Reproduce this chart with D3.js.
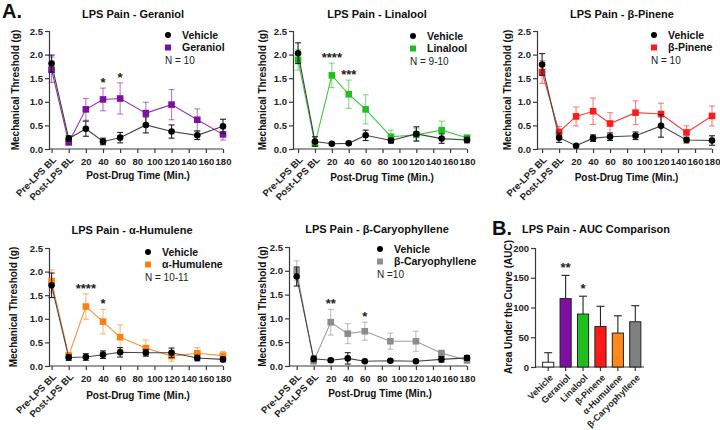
<!doctype html>
<html>
<head>
<meta charset="utf-8">
<title>LPS Pain</title>
<script src="https://d3js.org/d3.v7.min.js"></script>
<style>
  html, body { margin: 0; background: #fff; }
  svg { font-family: "Liberation Sans", Arial, sans-serif; font-weight: bold; }
</style>
</head>
<body>
<svg id="chart" width="720" height="430"></svg>
<script>
// time points: -20 = Pre-LPS BL, 0 = Post-LPS BL
var times = [-20, 0, 20, 40, 60, 90, 120, 150, 180];
var tickVals = [-20, 0, 20, 40, 60, 80, 100, 120, 140, 160, 180];
var tickNames = {"-20": "Pre-LPS BL", "0": "Post-LPS BL"};
var yTicks = [0, 0.5, 1, 1.5, 2, 2.5];

var gerVeh     = [1.81, 0.22, 0.43, 0.16, 0.24, 0.51, 0.37, 0.29, 0.48];
var gerVehErr  = [0.18, 0.06, 0.16, 0.07, 0.11, 0.17, 0.14, 0.09, 0.15];
var gerDrug    = [1.68, 0.14, 0.84, 1.05, 1.07, 0.76, 0.94, 0.62, 0.31];
var gerDrugErr = [0.27, 0.04, 0.23, 0.24, 0.33, 0.23, 0.32, 0.23, 0.12];
var gerStars   = ["", "", "", "*", "*", "", "", "", ""];

var linVeh     = [2.03, 0.16, 0.11, 0.12, 0.29, 0.18, 0.32, 0.22, 0.19];
var linVehErr  = [0.22, 0.10, 0.02, 0.02, 0.11, 0.05, 0.15, 0.10, 0.06];
var linDrug    = [1.89, 0.11, 1.56, 1.16, 0.84, 0.26, 0.30, 0.40, 0.24];
var linDrugErr = [0.22, 0.04, 0.26, 0.30, 0.31, 0.14, 0.14, 0.19, 0.05];
var linStars   = ["", "", "****", "***", "", "", "", "", ""];

var pinVeh     = [1.79, 0.24, 0.07, 0.23, 0.26, 0.28, 0.49, 0.19, 0.18];
var pinVehErr  = [0.23, 0.10, 0.02, 0.07, 0.08, 0.08, 0.24, 0.06, 0.10];
var pinDrug    = [1.63, 0.36, 0.69, 0.80, 0.54, 0.77, 0.74, 0.35, 0.70];
var pinDrugErr = [0.24, 0.12, 0.20, 0.28, 0.23, 0.25, 0.23, 0.14, 0.21];
var pinStars   = ["", "", "", "", "", "", "", "", ""];

var humVeh     = [1.71, 0.18, 0.19, 0.24, 0.29, 0.28, 0.28, 0.17, 0.14];
var humVehErr  = [0.26, 0.06, 0.07, 0.08, 0.10, 0.07, 0.10, 0.06, 0.05];
var humDrug    = [1.80, 0.22, 1.26, 0.94, 0.61, 0.38, 0.21, 0.27, 0.22];
var humDrugErr = [0.24, 0.06, 0.27, 0.26, 0.26, 0.17, 0.11, 0.12, 0.09];
var humStars   = ["", "", "****", "*", "", "", "", "", ""];

var carVeh     = [1.88, 0.15, 0.12, 0.16, 0.10, 0.11, 0.10, 0.14, 0.17];
var carVehErr  = [0.20, 0.06, 0.03, 0.12, 0.02, 0.02, 0.02, 0.06, 0.05];
var carDrug    = [2.00, 0.10, 0.92, 0.68, 0.73, 0.52, 0.52, 0.27, 0.12];
var carDrugErr = [0.21, 0.05, 0.27, 0.21, 0.19, 0.17, 0.21, 0.06, 0.06];
var carStars   = ["", "", "**", "", "*", "", "", "", ""];

var aucNames = ["Vehicle", "Geraniol", "Linalool", "β-Pinene", "α-Humulene", "β-Caryophyllene"];
var aucVals  = [8, 115, 89, 68, 57, 76];
var aucErr   = [16, 39, 30, 34, 29, 27];
var aucStars = ["", "**", "*", "", "", ""];
var aucTicks = [0, 50, 100, 150, 200];

var svg = d3.select("#chart");
svg.append("rect").attr("width", 720).attr("height", 430).attr("fill", "#fff");

var axisColor = "#3a3a3a";

// layout of each line panel (pixels)
var panels = [
  {title: "LPS Pain - Geraniol", name: "Geraniol", color: "#7d10a3", n: "N = 10",
   veh: gerVeh, vehErr: gerVehErr, drug: gerDrug, drugErr: gerDrugErr, stars: gerStars,
   ax: 49, ax1: 223, xmin: -23, top: 31, bot: 149, tx: 133, ty: 18, ylx: 15, xly: 179, lx: 168, ly: 35},
  {title: "LPS Pain - Linalool", name: "Linalool", color: "#1fbf1f", n: "N = 9-10",
   veh: linVeh, vehErr: linVehErr, drug: linDrug, drugErr: linDrugErr, stars: linStars,
   ax: 293, ax1: 467, xmin: -26, top: 31, bot: 149, tx: 377, ty: 18, ylx: 262, xly: 181, lx: 413, ly: 36},
  {title: "LPS Pain - β-Pinene", name: "β-Pinene", color: "#ff1a1a", n: "N = 10",
   veh: pinVeh, vehErr: pinVehErr, drug: pinDrug, drugErr: pinDrugErr, stars: pinStars,
   ax: 537, ax1: 712, xmin: -26, top: 31, bot: 149, tx: 622, ty: 18, ylx: 507, xly: 181, lx: 654, ly: 35},
  {title: "LPS Pain - α-Humulene", name: "α-Humulene", color: "#ff7f10", n: "N = 10-11",
   veh: humVeh, vehErr: humVehErr, drug: humDrug, drugErr: humDrugErr, stars: humStars,
   ax: 49, ax1: 223, xmin: -23, top: 248, bot: 366, tx: 132, ty: 234, ylx: 13, xly: 399, lx: 148, ly: 252},
  {title: "LPS Pain - β-Caryophyllene", name: "β-Caryophyllene", color: "#8c8c8c", n: "N =10",
   veh: carVeh, vehErr: carVehErr, drug: carDrug, drugErr: carDrugErr, stars: carStars,
   ax: 289, ax1: 467, xmin: -29, top: 247, bot: 366, tx: 377, ty: 233, ylx: 262, xly: 397, lx: 380, ly: 249}
];

function styleAxis(g) {
  g.selectAll(".domain").attr("stroke", axisColor).attr("stroke-width", 1.2);
  g.selectAll(".tick line").attr("stroke", axisColor).attr("stroke-width", 1.2);
  g.selectAll("text").attr("fill", "#222").attr("font-size", 9.5).attr("font-weight", "bold")
    .attr("font-family", '"Liberation Sans", Arial, sans-serif');
}

panels.forEach(function (p) {
  var x = d3.scaleLinear().domain([p.xmin, 180]).range([p.ax, p.ax1]);
  var y = d3.scaleLinear().domain([0, 2.5]).range([p.bot, p.top]);
  var g = svg.append("g");

  var yAxis = g.append("g").attr("transform", "translate(" + p.ax + ",0)")
    .call(d3.axisLeft(y).tickValues(yTicks).tickFormat(d3.format(".1f")).tickSize(4).tickPadding(2));
  styleAxis(yAxis);

  var xAxis = g.append("g").attr("transform", "translate(0," + p.bot + ")")
    .call(d3.axisBottom(x).tickValues(tickVals).tickSize(4).tickPadding(5)
      .tickFormat(function (d) { return tickNames[d] ? "" : d; }));
  styleAxis(xAxis);
  xAxis.select(".domain").attr("d", "M" + p.ax + ",0H" + p.ax1);

  // rotated baseline labels
  [-20, 0].forEach(function (t) {
    g.append("text")
      .attr("transform", "translate(" + (x(t) + 3) + "," + (p.bot + 9) + ") rotate(-45)")
      .attr("text-anchor", "end").attr("dy", "0.35em")
      .attr("font-size", 9.5).attr("fill", "#222")
      .text(tickNames[t]);
  });

  g.append("text").attr("x", p.tx).attr("y", p.ty).attr("text-anchor", "middle")
    .attr("font-size", 11).attr("fill", "#111").text(p.title);
  g.append("text").attr("transform", "translate(" + p.ylx + "," + ((p.top + p.bot) / 2) + ") rotate(-90)")
    .attr("text-anchor", "middle").attr("dy", "0.35em").attr("font-size", 10).attr("fill", "#111")
    .text("Mechanical Threshold (g)");
  g.append("text").attr("x", (p.ax + p.ax1) / 2 + 2).attr("y", p.xly).attr("text-anchor", "middle")
    .attr("font-size", 10).attr("fill", "#111").text("Post-Drug Time (Min.)");

  var line = d3.line().x(function (d, i) { return x(times[i]); }).y(function (d) { return y(d); });

  function series(vals, errs, col, lineCol, errCol, shape) {
    var s = g.append("g");
    s.append("path").datum(vals).attr("d", line).attr("fill", "none")
      .attr("stroke", lineCol).attr("stroke-width", 1.1);
    vals.forEach(function (v, i) {
      var cx = x(times[i]);
      var e = s.append("g").attr("stroke", errCol).attr("stroke-width", 1.1);
      e.append("line").attr("x1", cx).attr("x2", cx).attr("y1", y(v - errs[i])).attr("y2", y(v + errs[i]));
      e.append("line").attr("x1", cx - 3).attr("x2", cx + 3).attr("y1", y(v + errs[i])).attr("y2", y(v + errs[i]));
      e.append("line").attr("x1", cx - 3).attr("x2", cx + 3).attr("y1", y(v - errs[i])).attr("y2", y(v - errs[i]));
    });
    vals.forEach(function (v, i) {
      if (shape === "circle") {
        s.append("circle").attr("cx", x(times[i])).attr("cy", y(v)).attr("r", 3.3).attr("fill", col);
      } else {
        s.append("rect").attr("x", x(times[i]) - 3.3).attr("y", y(v) - 3.3)
          .attr("width", 6.6).attr("height", 6.6).attr("fill", col);
      }
    });
  }

  var light = d3.color(p.color); light.opacity = 0.55;
  var mid = d3.color(p.color); mid.opacity = 0.85;
  series(p.drug, p.drugErr, p.color, mid + "", light + "", "square");
  series(p.veh, p.vehErr, "#000", "#444", "#222", "circle");

  p.stars.forEach(function (s, i) {
    if (!s) return;
    var top = Math.min(y(p.drug[i] + p.drugErr[i]), y(p.veh[i] + p.vehErr[i]));
    g.append("text").attr("x", x(times[i])).attr("y", top - 1).attr("text-anchor", "middle")
      .attr("font-size", 13).attr("fill", "#222").text(s);
  });

  // legend
  g.append("circle").attr("cx", p.lx).attr("cy", p.ly).attr("r", 3).attr("fill", "#000");
  g.append("text").attr("x", p.lx + 14).attr("y", p.ly).attr("dy", "0.35em")
    .attr("font-size", 10.5).attr("fill", "#111").text("Vehicle");
  g.append("rect").attr("x", p.lx - 3).attr("y", p.ly + 12.5 - 3).attr("width", 6).attr("height", 6)
    .attr("fill", p.color);
  g.append("text").attr("x", p.lx + 14).attr("y", p.ly + 12.5).attr("dy", "0.35em")
    .attr("font-size", 10.5).attr("fill", "#111").text(p.name);
  g.append("text").attr("x", p.lx - 3).attr("y", p.ly + 25).attr("dy", "0.35em")
    .attr("font-size", 10).attr("font-weight", "normal").attr("fill", "#222").text(p.n);
});

// panel letters
svg.append("text").attr("x", 2).attr("y", 18).attr("font-size", 20).attr("fill", "#111").text("A.");
svg.append("text").attr("x", 492).attr("y", 235).attr("font-size", 20).attr("fill", "#111").text("B.");

// AUC bar chart
var aucColors = ["#ffffff", "#7d10a3", "#1fbf1f", "#ff1a1a", "#ff8a1a", "#808080"];
var bx = d3.scaleBand().domain(aucNames).range([539.5, 644]).paddingInner(0.36).paddingOuter(0.18);
var by = d3.scaleLinear().domain([0, 200]).range([367, 248]);
var bg = svg.append("g");

var byAxis = bg.append("g").attr("transform", "translate(535,0)")
  .call(d3.axisLeft(by).tickValues(aucTicks).tickSize(4).tickPadding(2));
styleAxis(byAxis);
var bxAxis = bg.append("g").attr("transform", "translate(0,367)")
  .call(d3.axisBottom(bx).tickSize(4).tickFormat(""));
styleAxis(bxAxis);
bxAxis.select(".domain").attr("d", "M535,0H644");

aucNames.forEach(function (nm, i) {
  var cx = bx(nm) + bx.bandwidth() / 2;
  bg.append("line").attr("x1", cx).attr("x2", cx).attr("y1", by(aucVals[i])).attr("y2", by(aucVals[i] + aucErr[i]))
    .attr("stroke", "#222").attr("stroke-width", 1.1);
  bg.append("line").attr("x1", cx - 4).attr("x2", cx + 4)
    .attr("y1", by(aucVals[i] + aucErr[i])).attr("y2", by(aucVals[i] + aucErr[i]))
    .attr("stroke", "#222").attr("stroke-width", 1.1);
  bg.append("rect").attr("x", bx(nm)).attr("y", by(aucVals[i]))
    .attr("width", bx.bandwidth()).attr("height", by(0) - by(aucVals[i]))
    .attr("fill", aucColors[i]).attr("stroke", "#222").attr("stroke-width", 1);
  if (aucStars[i]) {
    bg.append("text").attr("x", cx).attr("y", by(aucVals[i] + aucErr[i]) - 3).attr("text-anchor", "middle")
      .attr("font-size", 13).attr("fill", "#222").text(aucStars[i]);
  }
  bg.append("text").attr("transform", "translate(" + (cx + 3) + ",376) rotate(-45)")
    .attr("text-anchor", "end").attr("dy", "0.35em").attr("font-size", 9).attr("fill", "#222").text(nm);
});

bg.append("text").attr("x", 596).attr("y", 233).attr("text-anchor", "middle")
  .attr("font-size", 11).attr("fill", "#111").text("LPS Pain - AUC Comparison");
bg.append("text").attr("transform", "translate(508,307) rotate(-90)")
  .attr("text-anchor", "middle").attr("dy", "0.35em").attr("font-size", 10).attr("fill", "#111")
  .text("Area Under the Curve (AUC)");
</script>
</body>
</html>
